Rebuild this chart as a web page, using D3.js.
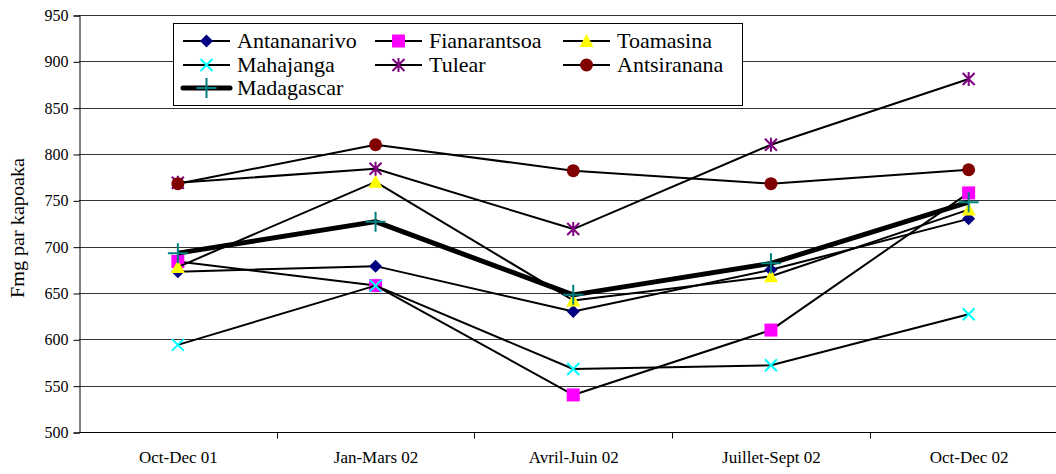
<!DOCTYPE html>
<html>
<head>
<meta charset="utf-8">
<script src="https://d3js.org/d3.v7.min.js"></script>
<style>
  body { margin: 0; background: #fff; }
</style>
</head>
<body>
<div id="chart"></div>
<script>
// periods on the x axis
var periods = ["Oct-Dec 01", "Jan-Mars 02", "Avril-Juin 02", "Juillet-Sept 02", "Oct-Dec 02"];
var yTicks = [500, 550, 600, 650, 700, 750, 800, 850, 900, 950];

// price per kapoaka (Fmg), one array per region
var antananarivo = [673, 679, 630, 675, 730];
var fianarantsoa = [684, 658, 540, 610, 758];
var toamasina    = [678, 770, 642, 668, 740];
var mahajanga    = [594, 658, 568, 572, 627];
var tulear       = [769, 784, 719, 810, 881];
var antsiranana  = [768, 810, 782, 768, 783];
var madagascar   = [693, 727, 648, 682, 748];

var series = [
  { name: "Antananarivo", values: antananarivo, marker: "diamond",  color: "#000080", width: 2 },
  { name: "Fianarantsoa", values: fianarantsoa, marker: "square",   color: "#ff00ff", width: 2 },
  { name: "Toamasina",    values: toamasina,    marker: "triangle", color: "#ffff00", width: 2 },
  { name: "Mahajanga",    values: mahajanga,    marker: "x",        color: "#00ffff", width: 2 },
  { name: "Tulear",       values: tulear,       marker: "star",     color: "#800080", width: 2 },
  { name: "Antsiranana",  values: antsiranana,  marker: "circle",   color: "#800000", width: 2 },
  { name: "Madagascar",   values: madagascar,   marker: "plus",     color: "#008080", width: 5 }
];

var W = 1056, H = 474;
var plotLeft = 79, plotTop = 15, plotBottom = 432;
var band = 197.7;
var serif = "Liberation Serif";

var svg = d3.select("#chart").append("svg")
  .attr("width", W).attr("height", H);

var x = d3.scaleBand().domain(periods).range([plotLeft, plotLeft + band * periods.length]);
var y = d3.scaleLinear().domain([500, 950]).range([plotBottom, plotTop]);

// gridlines
svg.append("g").selectAll("line").data(yTicks.slice(1)).enter().append("line")
  .attr("x1", plotLeft).attr("x2", W)
  .attr("y1", function(d) { return Math.round(y(d)) + 0.5; })
  .attr("y2", function(d) { return Math.round(y(d)) + 0.5; })
  .attr("stroke", "#333").attr("stroke-width", 1);

// y axis
var yAxis = svg.append("g").attr("transform", "translate(" + (plotLeft + 0.5) + ",0.5)")
  .call(d3.axisLeft(y).tickValues(yTicks).tickSize(6).tickPadding(5));
yAxis.attr("font-family", null).attr("font-size", null);
yAxis.selectAll("text").attr("fill", "#000")
  .style("font-family", serif).style("font-size", "16px");
yAxis.selectAll("line, path").attr("stroke", "#000");

// x axis
var xAxis = svg.append("g").attr("transform", "translate(0.5," + (Math.round(plotBottom) + 0.5) + ")")
  .call(d3.axisBottom(x).tickSize(0).tickPadding(18));
xAxis.attr("font-family", null).attr("font-size", null);
xAxis.select("path").attr("stroke", "#000").attr("d", "M" + plotLeft + ",0H" + W);
xAxis.selectAll("text").attr("fill", "#000")
  .style("font-family", serif).style("font-size", "17px");
// tick marks between categories
xAxis.selectAll(".sep").data(periods.slice(1)).enter().append("line")
  .attr("class", "sep")
  .attr("x1", function(d) { return Math.round(x(d)); }).attr("x2", function(d) { return Math.round(x(d)); })
  .attr("y1", 0).attr("y2", 6).attr("stroke", "#000");

// y title
svg.append("text")
  .attr("transform", "translate(24,228) rotate(-90)")
  .attr("text-anchor", "middle")
  .style("font-family", serif)
  .style("font-size", "18px")
  .attr("textLength", 140)
  .attr("lengthAdjust", "spacingAndGlyphs")
  .text("Fmg par kapoaka");

function drawMarker(g, type, color, cx, cy) {
  if (type === "diamond") {
    g.append("path").attr("d", "M" + cx + "," + (cy - 6.5) + "L" + (cx + 6.5) + "," + cy + "L" + cx + "," + (cy + 6.5) + "L" + (cx - 6.5) + "," + cy + "Z")
      .attr("fill", color);
  } else if (type === "square") {
    g.append("rect").attr("x", cx - 6.5).attr("y", cy - 6.5).attr("width", 13).attr("height", 13).attr("fill", color);
  } else if (type === "triangle") {
    g.append("path").attr("d", "M" + cx + "," + (cy - 7) + "L" + (cx + 7) + "," + (cy + 6) + "L" + (cx - 7) + "," + (cy + 6) + "Z")
      .attr("fill", color);
  } else if (type === "circle") {
    g.append("circle").attr("cx", cx).attr("cy", cy).attr("r", 6.5).attr("fill", color);
  } else if (type === "x") {
    g.append("path").attr("d", "M" + (cx - 6) + "," + (cy - 6) + "L" + (cx + 6) + "," + (cy + 6) + "M" + (cx + 6) + "," + (cy - 6) + "L" + (cx - 6) + "," + (cy + 6))
      .attr("stroke", color).attr("stroke-width", 2);
  } else if (type === "star") {
    g.append("path").attr("d", "M" + (cx - 6) + "," + (cy - 6) + "L" + (cx + 6) + "," + (cy + 6) + "M" + (cx + 6) + "," + (cy - 6) + "L" + (cx - 6) + "," + (cy + 6) + "M" + cx + "," + (cy - 7) + "L" + cx + "," + (cy + 7))
      .attr("stroke", color).attr("stroke-width", 2);
  } else if (type === "plus") {
    g.append("path").attr("d", "M" + (cx - 10) + "," + cy + "L" + (cx + 10) + "," + cy + "M" + cx + "," + (cy - 10) + "L" + cx + "," + (cy + 10))
      .attr("stroke", color).attr("stroke-width", 2);
  }
}

var line = d3.line()
  .x(function(d, i) { return x(periods[i]) + x.bandwidth() / 2; })
  .y(function(d) { return y(d); });

series.forEach(function(s) {
  var g = svg.append("g");
  g.append("path").datum(s.values).attr("d", line)
    .attr("fill", "none").attr("stroke", "#000").attr("stroke-width", s.width)
    .attr("stroke-linejoin", "round");
  s.values.forEach(function(v, i) {
    drawMarker(g, s.marker, s.color, x(periods[i]) + x.bandwidth() / 2, y(v));
  });
});

// legend
var legend = svg.append("g");
legend.append("rect").attr("x", 173.5).attr("y", 23.5).attr("width", 569).attr("height", 82)
  .attr("fill", "#fff").attr("stroke", "#000").attr("stroke-width", 1);
var colX = [183, 375, 563];
var rowY = [41, 65, 88];
series.forEach(function(s, i) {
  var cx = colX[i % 3], cy = rowY[Math.floor(i / 3)];
  legend.append("line").attr("x1", cx).attr("x2", cx + 47).attr("y1", cy).attr("y2", cy)
    .attr("stroke", "#000").attr("stroke-width", s.width).attr("stroke-linecap", s.width > 2 ? "round" : "butt");
  drawMarker(legend, s.marker, s.color, cx + 23.5, cy);
  legend.append("text").attr("x", cx + 54).attr("y", cy + 7)
    .style("font-family", serif).style("font-size", "22px").text(s.name);
});
</script>
</body>
</html>
